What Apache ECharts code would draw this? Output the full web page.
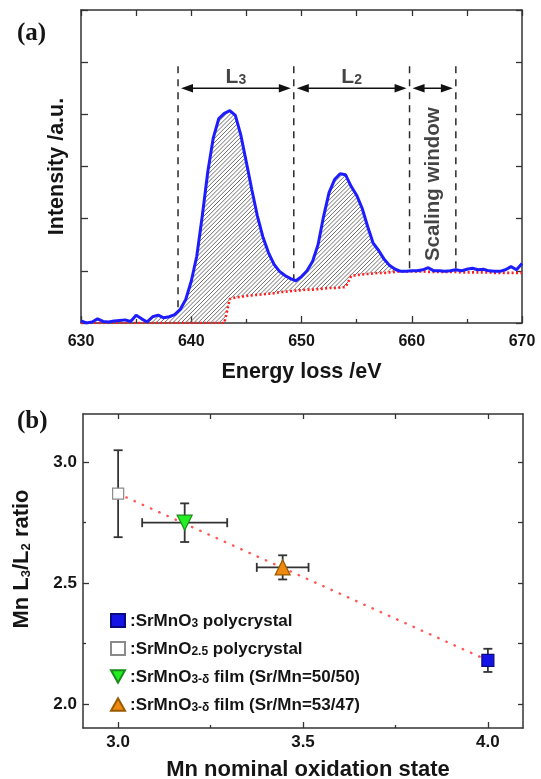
<!DOCTYPE html>
<html>
<head>
<meta charset="utf-8">
<script src="https://cdn.jsdelivr.net/npm/echarts@6/dist/echarts.min.js"></script>
<style>
  html, body { margin: 0; padding: 0; background: #fff; }
  #chart { width: 541px; height: 779px; }
</style>
</head>
<body>
<div id="chart"></div>
<script>
// ---------- (a) Mn L2,3 edge spectrum, sampled every 0.5 eV ----------
const energy = [
  630, 630.5, 631, 631.5, 632, 632.5, 633, 633.5, 634, 634.5,
  635, 635.5, 636, 636.5, 637, 637.5, 638, 638.5, 639, 639.5,
  640, 640.5, 641, 641.5, 642, 642.5, 643, 643.5, 644, 644.5,
  645, 645.5, 646, 646.5, 647, 647.5, 648, 648.5, 649, 649.5,
  650, 650.5, 651, 651.5, 652, 652.5, 653, 653.5, 654, 654.5,
  655, 655.5, 656, 656.5, 657, 657.5, 658, 658.5, 659, 659.5,
  660, 660.5, 661, 661.5, 662, 662.5, 663, 663.5, 664, 664.5,
  665, 665.5, 666, 666.5, 667, 667.5, 668, 668.5, 669, 669.5, 670
];
const intensity = [
  0.04, 0.00, 0.02, 0.08, 0.03, 0.02, 0.04, 0.05, 0.06, 0.03,
  0.15, 0.08, 0.02, 0.12, 0.15, 0.10, 0.12, 0.16, 0.26, 0.45,
  0.80, 1.28, 2.05, 2.90, 3.55, 3.92, 4.02, 4.07, 3.98, 3.60,
  3.08, 2.55, 2.05, 1.65, 1.35, 1.13, 0.99, 0.91, 0.85, 0.81,
  0.89, 1.00, 1.18, 1.50, 2.04, 2.50, 2.75, 2.86, 2.84, 2.62,
  2.45, 2.20, 1.85, 1.53, 1.39, 1.22, 1.10, 1.03, 0.99, 0.99,
  1.00, 1.00, 1.02, 1.06, 1.00, 1.00, 0.99, 1.00, 1.02, 1.00,
  1.03, 1.05, 1.02, 1.03, 1.00, 0.99, 0.99, 1.02, 1.08, 1.02, 1.14
];
// two-step (L3, L2) continuum background
const background = [
  0, 0, 0, 0, 0, 0, 0, 0, 0, 0,
  0, 0, 0, 0, 0, 0, 0, 0, 0, 0,
  0, 0, 0, 0, 0, 0, 0, 0.46, 0.49, 0.50,
  0.52, 0.53, 0.54, 0.55, 0.56, 0.57, 0.59, 0.60, 0.61, 0.62,
  0.63, 0.64, 0.64, 0.65, 0.66, 0.67, 0.67, 0.68, 0.69, 0.90,
  0.92, 0.93, 0.94, 0.95, 0.96, 0.96, 0.97, 0.98, 0.99, 0.99,
  0.99, 0.99, 0.99, 0.98, 0.98, 0.98, 0.98, 0.98, 0.98, 0.97,
  0.97, 0.97, 0.97, 0.97, 0.97, 0.96, 0.96, 0.96, 0.96, 0.96, 0.96
];
const hatchRange = [636, 659];

// integration windows
const dividerX = [638.8, 649.3, 659.8, 664.0];
const dividerBottom = [0.22, 0.81, 1.0, 1.0];
const dividerTop = 4.92;
const arrowFrom = [638.8, 649.3, 659.8];
const arrowTo = [649.3, 659.8, 664.0];
const arrowLevel = 4.5;
const edgeNames = ['3', '2'];
const edgeLabelLevel = 4.73;
const windowLabel = { text: 'Scaling window', x: 661.95, y: 2.66 };

// ---------- (b) L3/L2 ratio vs nominal Mn valence ----------
const sampleNames = [
  'SrMnO3 polycrystal',
  'SrMnO2.5 polycrystal',
  'SrMnO3-δ film (Sr/Mn=50/50)',
  'SrMnO3-δ film (Sr/Mn=53/47)'
];
const sampleSub = ['3', '2.5', '3-δ', '3-δ'];
const sampleRest = [' polycrystal', ' polycrystal', ' film (Sr/Mn=50/50)', ' film (Sr/Mn=53/47)'];
const oxState = [4.0, 3.0, 3.18, 3.445];
const oxErr = [0, 0, 0.115, 0.07];
const ratio = [2.18, 2.87, 2.75, 2.565];
const ratioErr = [0.048, 0.18, 0.08, 0.05];
const fitX = [3.0, 4.0];
const fitY = [2.87, 2.18];

const xTicksB = [3.0, 3.5, 4.0];
const xMinorB = [3.25, 3.75];
const yTicksB = [2.0, 2.5, 3.0];
const yMinorB = [2.25, 2.75];

// ---------- styling ----------
const SANS = '"Liberation Sans", Arial, sans-serif';
const SERIF = '"Liberation Serif", "Times New Roman", serif';
const INK = '#151515';
const FRAME = '#333';
const downTriangle = 'path://M0,0L10,0L5,9Z';
const upTriangle = 'path://M5,0L10,9L0,9Z';
const sampleSymbol = ['rect', 'rect', downTriangle, upTriangle];
const sampleSize = [12, 11, 15, 15];
const sampleFill = ['#1414e6', '#ffffff', '#22ee22', '#ee8a10'];
const sampleEdge = ['#0a0a80', '#8a8a8a', '#1a8a1a', '#9a5a00'];

const spectrum = energy.map((e, i) => [e, intensity[i]]);
const bgLine = energy.map((e, i) => [e, background[i]]);
const hatchIdx = energy.map((e, i) => i).filter(i => energy[i] >= hatchRange[0] && energy[i] <= hatchRange[1]);

const dividerData = [];
dividerX.forEach((x, i) => {
  dividerData.push([x, dividerTop], [x, dividerBottom[i]], '-');
});

// diagonal hatching of the region between spectrum and background
function renderHatch(params, api) {
  const top = hatchIdx.map(i => api.coord([energy[i], intensity[i]]));
  const bot = hatchIdx.map(i => api.coord([energy[i], background[i]]));
  const x0 = top[0][0], x1 = top[top.length - 1][0];
  const cols = [];
  let k = 0;
  for (let x = x0; x <= x1; x += 0.5) {
    while (k < top.length - 2 && top[k + 1][0] < x) k++;
    const t = (x - top[k][0]) / (top[k + 1][0] - top[k][0]);
    cols.push([x, top[k][1] + t * (top[k + 1][1] - top[k][1]), bot[k][1] + t * (bot[k + 1][1] - bot[k][1])]);
  }
  let cMin = Infinity, cMax = -Infinity;
  cols.forEach(([x, yt, yb]) => { cMin = Math.min(cMin, x + yt); cMax = Math.max(cMax, x + yb); });
  const spacing = 4.2;
  const style = { stroke: '#666', lineWidth: 0.95 };
  const kids = [];
  const seg = (a, b) => {
    if (b[0] - a[0] > 0.4) kids.push({ type: 'line', shape: { x1: a[0], y1: a[1], x2: b[0], y2: b[1] }, style });
  };
  for (let c = Math.ceil(cMin / spacing) * spacing; c <= cMax; c += spacing) {
    let start = null, prev = null;
    for (const [x, yt, yb] of cols) {
      const y = c - x;
      if (y >= yt && y <= yb) {
        if (!start) start = [x, y];
        prev = [x, y];
      } else if (start) {
        seg(start, prev);
        start = null;
      }
    }
    if (start) seg(start, prev);
  }
  return { type: 'group', children: kids };
}

// double-headed arrows spanning each window
function renderArrow(params, api) {
  const p0 = api.coord([api.value(0), api.value(1)]);
  const p1 = api.coord([api.value(2), api.value(1)]);
  const y = p0[1], inset = 3, len = 12, half = 4.2;
  const a = p0[0] + inset, b = p1[0] - inset;
  const fill = { fill: '#111' };
  return {
    type: 'group',
    children: [
      { type: 'line', shape: { x1: a + 4, y1: y, x2: b - 4, y2: y }, style: { stroke: '#111', lineWidth: 1.5 } },
      { type: 'polygon', shape: { points: [[a, y], [a + len, y - half], [a + len, y + half]] }, style: fill },
      { type: 'polygon', shape: { points: [[b, y], [b - len, y - half], [b - len, y + half]] }, style: fill }
    ]
  };
}

const axisLineStyle = { lineStyle: { color: FRAME, width: 1.5 } };
const tickStyle = { color: FRAME, width: 1.3 };
const labelFont = { fontFamily: SANS, fontWeight: 'bold', color: INK };

const chart = echarts.init(document.getElementById('chart'), null, { renderer: 'canvas' });

chart.setOption({
  animation: false,
  backgroundColor: '#fff',
  title: [
    { text: '(a)', left: 12, top: 16, textStyle: { fontFamily: SERIF, fontWeight: 'bold', fontSize: 25, color: INK } },
    { text: '(b)', left: 12, top: 404, textStyle: { fontFamily: SERIF, fontWeight: 'bold', fontSize: 25, color: INK } }
  ],
  grid: [
    { left: 81, top: 10, width: 441, height: 313, outerBoundsMode: 'none' },
    { left: 83, top: 414, width: 440, height: 314, outerBoundsMode: 'none' }
  ],
  legend: {
    data: sampleNames.map((n, i) => ({ name: n, icon: sampleSymbol[i] })),
    orient: 'vertical',
    left: 110,
    top: 613,
    padding: 0,
    itemWidth: 14,
    itemHeight: 13,
    itemGap: 11,
    selectedMode: false,
    formatter: name => {
      const i = sampleNames.indexOf(name);
      return '{n|:SrMnO}{s|' + sampleSub[i] + '}{n|' + sampleRest[i] + '}';
    },
    textStyle: {
      ...labelFont,
      fontSize: 17,
      rich: {
        n: { fontFamily: SANS, fontWeight: 'bold', fontSize: 17, color: INK, lineHeight: 19, verticalAlign: 'bottom' },
        s: { fontFamily: SANS, fontWeight: 'bold', fontSize: 12, color: INK, lineHeight: 13, verticalAlign: 'bottom' }
      }
    }
  },
  xAxis: [
    {
      gridIndex: 0, type: 'value', position: 'bottom', min: 630, max: 670, interval: 10,
      axisLine: { onZero: false, ...axisLineStyle },
      axisTick: { inside: true, length: 7, lineStyle: tickStyle },
      minorTick: { show: true, splitNumber: 2, length: 4, lineStyle: tickStyle },
      splitLine: { show: false },
      axisLabel: { ...labelFont, fontSize: 16, margin: 11 },
      name: 'Energy loss /eV', nameLocation: 'middle', nameGap: 38,
      nameTextStyle: { ...labelFont, fontSize: 21.5 }
    },
    {
      gridIndex: 0, type: 'value', position: 'top', min: 630, max: 670, interval: 10,
      axisLine: { onZero: false, ...axisLineStyle },
      axisTick: { inside: true, length: 6, lineStyle: tickStyle },
      minorTick: { show: true, splitNumber: 2, length: 6, lineStyle: tickStyle },
      splitLine: { show: false },
      axisLabel: { show: false }
    },
    {
      gridIndex: 1, type: 'value', position: 'bottom', min: 2.905, max: 4.095,
      axisLine: { onZero: false, ...axisLineStyle },
      axisTick: { inside: true, length: 6, lineStyle: tickStyle, customValues: xTicksB },
      splitLine: { show: false },
      axisLabel: { ...labelFont, fontSize: 17, margin: 6, customValues: xTicksB, formatter: v => v.toFixed(1) },
      name: 'Mn nominal oxidation state', nameLocation: 'middle', nameGap: 31,
      nameTextStyle: { ...labelFont, fontSize: 22, padding: [0, 0, 0, 10] }
    },
    {
      gridIndex: 1, type: 'value', position: 'bottom', min: 2.905, max: 4.095,
      axisLine: { show: false, onZero: false },
      axisTick: { inside: true, length: 3, lineStyle: tickStyle, customValues: xMinorB },
      splitLine: { show: false },
      axisLabel: { show: false }
    },
    {
      gridIndex: 1, type: 'value', position: 'top', min: 2.905, max: 4.095,
      axisLine: { onZero: false, ...axisLineStyle },
      axisTick: { inside: true, length: 5, lineStyle: tickStyle, customValues: xTicksB.concat(xMinorB) },
      splitLine: { show: false },
      axisLabel: { show: false }
    }
  ],
  yAxis: [
    {
      gridIndex: 0, type: 'value', position: 'left', min: 0, max: 6, interval: 1,
      axisLine: { onZero: false, ...axisLineStyle },
      axisTick: { inside: true, length: 7, lineStyle: tickStyle },
      splitLine: { show: false },
      axisLabel: { show: false },
      name: 'Intensity /a.u.', nameLocation: 'middle', nameGap: 13,
      nameTextStyle: { ...labelFont, fontSize: 21.5 }
    },
    {
      gridIndex: 0, type: 'value', position: 'right', min: 0, max: 6, interval: 1,
      axisLine: { onZero: false, ...axisLineStyle },
      axisTick: { inside: true, length: 6, lineStyle: tickStyle },
      splitLine: { show: false },
      axisLabel: { show: false }
    },
    {
      gridIndex: 1, type: 'value', position: 'left', min: 1.9, max: 3.2,
      axisLine: { onZero: false, ...axisLineStyle },
      axisTick: { inside: true, length: 6, lineStyle: tickStyle, customValues: yTicksB },
      splitLine: { show: false },
      axisLabel: { ...labelFont, fontSize: 17, margin: 6, customValues: yTicksB, formatter: v => v.toFixed(1) },
      name: '{m|Mn L}{s|3}{m|/L}{s|2}{m| ratio}', nameLocation: 'middle', nameGap: 50,
      nameTextStyle: {
        ...labelFont, fontSize: 22, padding: [0, 0, 0, 24],
        rich: {
          m: { fontFamily: SANS, fontWeight: 'bold', fontSize: 22, color: INK, lineHeight: 26, verticalAlign: 'bottom' },
          s: { fontFamily: SANS, fontWeight: 'bold', fontSize: 13, color: INK, lineHeight: 6, verticalAlign: 'bottom' }
        }
      }
    },
    {
      gridIndex: 1, type: 'value', position: 'left', min: 1.9, max: 3.2,
      axisLine: { show: false, onZero: false },
      axisTick: { inside: true, length: 3, lineStyle: tickStyle, customValues: yMinorB },
      splitLine: { show: false },
      axisLabel: { show: false }
    },
    {
      gridIndex: 1, type: 'value', position: 'right', min: 1.9, max: 3.2,
      axisLine: { onZero: false, ...axisLineStyle },
      axisTick: { inside: true, length: 5, lineStyle: tickStyle, customValues: yTicksB.concat(yMinorB) },
      splitLine: { show: false },
      axisLabel: { show: false }
    }
  ],
  series: [
    // hatched integration area
    {
      type: 'custom', xAxisIndex: 0, yAxisIndex: 0, silent: true, z: 1,
      data: [[energy[hatchIdx[0]], background[hatchIdx[0]]]],
      renderItem: renderHatch
    },
    // window boundaries
    {
      type: 'line', xAxisIndex: 0, yAxisIndex: 0, data: dividerData,
      showSymbol: false, symbol: 'none', connectNulls: false, silent: true, z: 2,
      lineStyle: { color: '#2a2a2a', width: 1.5, type: [7, 6] }
    },
    // double arrows
    {
      type: 'custom', xAxisIndex: 0, yAxisIndex: 0, silent: true, z: 2,
      data: arrowFrom.map((x, i) => [x, arrowLevel, arrowTo[i]]),
      renderItem: renderArrow
    },
    // L3 / L2 captions
    {
      type: 'scatter', xAxisIndex: 0, yAxisIndex: 0, symbolSize: 0, silent: true, z: 5,
      data: edgeNames.map((s, i) => ({
        value: [(arrowFrom[i] + arrowTo[i]) / 2, edgeLabelLevel],
        label: { formatter: '{L|L}{s|' + s + '}' }
      })),
      label: {
        show: true, position: 'inside',
        rich: {
          L: { fontFamily: SANS, fontWeight: 'bold', fontSize: 21, color: INK, lineHeight: 22, verticalAlign: 'bottom' },
          s: { fontFamily: SANS, fontWeight: 'bold', fontSize: 14, color: INK, lineHeight: 15, verticalAlign: 'bottom' }
        }
      }
    },
    // background
    {
      type: 'line', xAxisIndex: 0, yAxisIndex: 0, data: bgLine,
      showSymbol: false, symbol: 'none', silent: true, z: 3,
      lineStyle: { color: '#ff1e1e', width: 2.6, type: [2, 2.4] }
    },
    // spectrum
    {
      type: 'line', xAxisIndex: 0, yAxisIndex: 0, data: spectrum,
      showSymbol: false, symbol: 'none', silent: true, z: 4,
      lineStyle: { color: '#1c1cff', width: 3 }
    },
    // window caption
    {
      type: 'scatter', xAxisIndex: 0, yAxisIndex: 0, data: [[windowLabel.x, windowLabel.y]],
      symbolSize: 0, silent: true, z: 5,
      label: {
        show: true, position: 'inside', rotate: 90, formatter: windowLabel.text,
        fontFamily: SANS, fontWeight: 'bold', fontSize: 20.5, color: INK
      }
    },
    // (b) linear trend
    {
      type: 'line', xAxisIndex: 2, yAxisIndex: 2, data: fitX.map((x, i) => [x, fitY[i]]),
      showSymbol: false, symbol: 'none', silent: true, z: 1,
      lineStyle: { color: '#ff5555', width: 2.4, type: [0.5, 8.5], cap: 'round' }
    },
    // (b) error bars
    {
      type: 'custom', xAxisIndex: 2, yAxisIndex: 2, silent: true, z: 2,
      data: oxState.map((x, i) => [x, ratio[i], oxErr[i], ratioErr[i]]),
      renderItem: (params, api) => {
        const x = api.value(0), y = api.value(1), xe = api.value(2), ye = api.value(3);
        const c = api.coord([x, y]);
        const style = { stroke: '#333', lineWidth: 1.8 };
        const cap = 4.5;
        const kids = [];
        if (ye > 0) {
          const t = api.coord([x, y + ye])[1], b = api.coord([x, y - ye])[1];
          kids.push({ type: 'line', shape: { x1: c[0], y1: t, x2: c[0], y2: b }, style });
          kids.push({ type: 'line', shape: { x1: c[0] - cap, y1: t, x2: c[0] + cap, y2: t }, style });
          kids.push({ type: 'line', shape: { x1: c[0] - cap, y1: b, x2: c[0] + cap, y2: b }, style });
        }
        if (xe > 0) {
          const l = api.coord([x - xe, y])[0], r = api.coord([x + xe, y])[0];
          kids.push({ type: 'line', shape: { x1: l, y1: c[1], x2: r, y2: c[1] }, style });
          kids.push({ type: 'line', shape: { x1: l, y1: c[1] - cap, x2: l, y2: c[1] + cap }, style });
          kids.push({ type: 'line', shape: { x1: r, y1: c[1] - cap, x2: r, y2: c[1] + cap }, style });
        }
        return { type: 'group', children: kids };
      }
    },
    // (b) samples
    ...sampleNames.map((name, i) => ({
      type: 'scatter', name, xAxisIndex: 2, yAxisIndex: 2, z: 4,
      data: [[oxState[i], ratio[i]]],
      symbol: sampleSymbol[i], symbolSize: sampleSize[i],
      itemStyle: { color: sampleFill[i], borderColor: sampleEdge[i], borderWidth: 1.2, opacity: 1 }
    }))
  ]
});
</script>
</body>
</html>
